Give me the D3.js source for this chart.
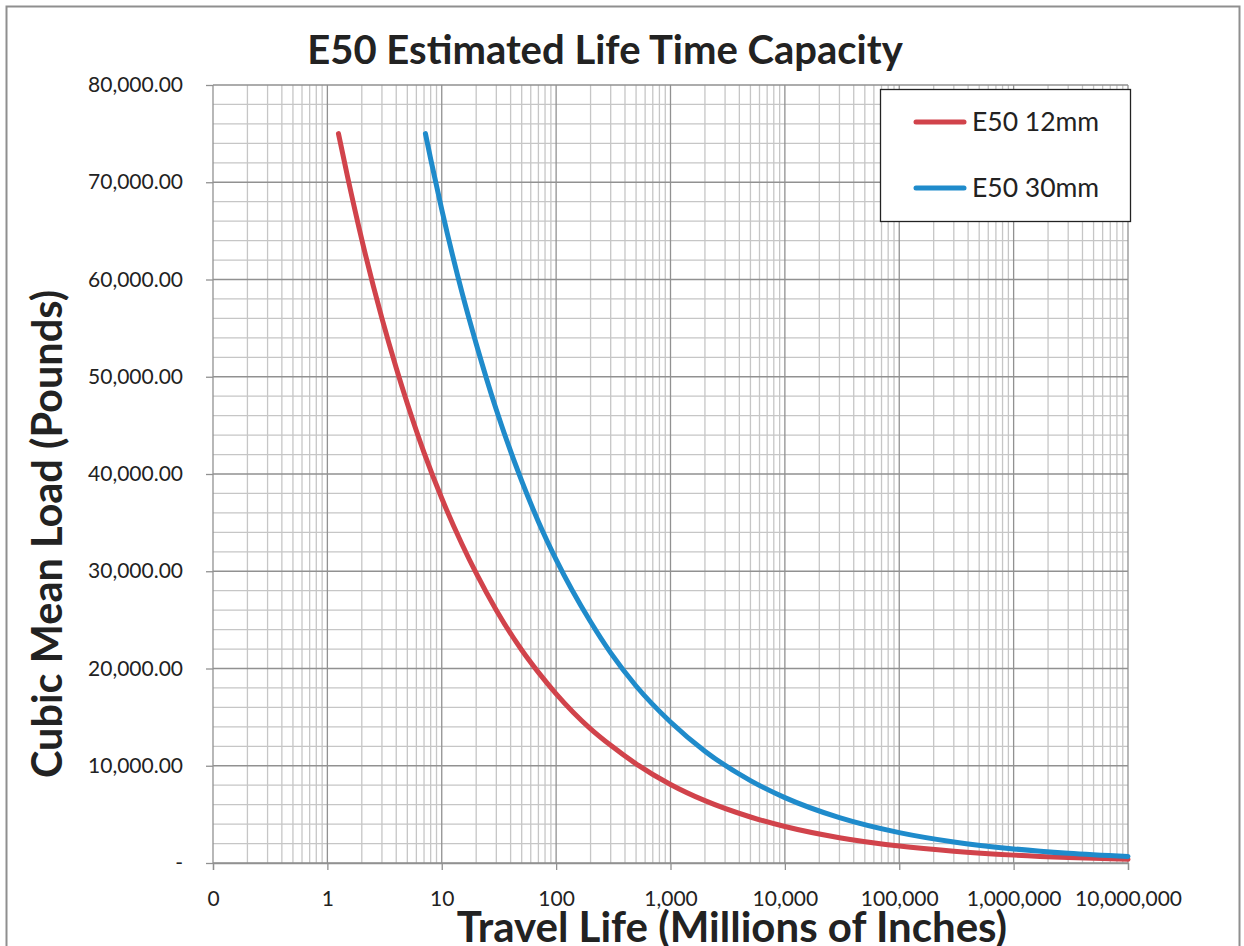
<!DOCTYPE html>
<html>
<head>
<meta charset="utf-8">
<script src="https://cdn.jsdelivr.net/npm/d3@7"></script>
<style>
  body { margin: 0; background: #fff; }
  text { font-family: Lato, "Open Sans", sans-serif; fill: #222; }
</style>
</head>
<body>
<svg id="chart" width="1244" height="946"></svg>
<script>
// Series (travel life in millions of inches, load in pounds)
const red12Life = [1.25, 1.5, 2, 3, 4, 5, 7, 10, 15, 20, 30, 50, 70, 100, 200, 300, 500, 1000, 2000, 5000, 10000, 30000, 100000, 300000, 1000000, 3000000, 10000000];
const red12Load = [75000, 70600, 64100, 56000, 50900, 47250, 42200, 37500, 32800, 29800, 26000, 21900, 19600, 17400, 13800, 12100, 10200, 8080, 6410, 4730, 3750, 2600, 1740, 1210, 810, 560, 375];
const blue30Life = [7.2, 8, 10, 15, 20, 30, 50, 70, 100, 200, 300, 500, 1000, 2000, 5000, 10000, 30000, 100000, 300000, 1000000, 3000000, 10000000];
const blue30Load = [75000, 72400, 67200, 58700, 53400, 46600, 39300, 35100, 31200, 24800, 21600, 18200, 14500, 11500, 8470, 6720, 4660, 3120, 2160, 1450, 1000, 672];

const seriesNames = ["E50 12mm", "E50 30mm"];
const seriesColors = ["#d1434b", "#1f8bcb"];
const xTickValues = [0.1, 1, 10, 100, 1000, 10000, 100000, 1000000, 10000000];
const xTickLabels = ["0", "1", "10", "100", "1,000", "10,000", "100,000", "1,000,000", "10,000,000"];
const yTickValues = [0, 10000, 20000, 30000, 40000, 50000, 60000, 70000, 80000];

const margin = {top: 85, right: 116, bottom: 83, left: 213};
const W = 1244, H = 946;
const width = W - margin.left - margin.right;
const height = H - margin.top - margin.bottom;

const svg = d3.select("#chart");

// outer frame
svg.append("rect")
    .attr("x", 6.5).attr("y", 6.5)
    .attr("width", 1233).attr("height", 960)
    .attr("fill", "none")
    .attr("stroke", "#8f8f8f")
    .attr("stroke-width", 2);

const g = svg.append("g")
    .attr("transform", `translate(${margin.left},${margin.top})`);

const x = d3.scaleLog().domain([0.1, 10000000]).range([0, width]);
const y = d3.scaleLinear().domain([0, 80000]).range([height, 0]);

// minor grid
const minorX = [];
for (let e = -1; e < 7; e++) {
    for (let k = 2; k <= 9; k++) minorX.push(k * Math.pow(10, e));
}
g.append("g").selectAll("line")
    .data(minorX)
    .join("line")
    .attr("x1", d => x(d)).attr("x2", d => x(d))
    .attr("y1", 0).attr("y2", height)
    .attr("stroke", "#c6c6c6").attr("stroke-width", 1.3);

g.append("g").selectAll("line")
    .data(d3.range(2000, 80001, 2000).filter(v => v % 10000 !== 0))
    .join("line")
    .attr("x1", 0).attr("x2", width)
    .attr("y1", d => y(d)).attr("y2", d => y(d))
    .attr("stroke", "#c6c6c6").attr("stroke-width", 1.3);

// major grid
g.append("g").selectAll("line")
    .data(xTickValues)
    .join("line")
    .attr("x1", d => x(d)).attr("x2", d => x(d))
    .attr("y1", 0).attr("y2", height)
    .attr("stroke", "#919191").attr("stroke-width", 1.3);

g.append("g").selectAll("line")
    .data(yTickValues)
    .join("line")
    .attr("x1", 0).attr("x2", width)
    .attr("y1", d => y(d)).attr("y2", d => y(d))
    .attr("stroke", "#919191").attr("stroke-width", 1.3);

// axes
const xAxis = g.append("g")
    .attr("transform", `translate(0,${height})`)
    .call(d3.axisBottom(x).tickValues(xTickValues)
        .tickFormat((d, i) => xTickLabels[i]).tickSize(7).tickPadding(21));
xAxis.selectAll("path, line").attr("stroke", "#919191").attr("stroke-width", 1.3);
xAxis.selectAll("text").style("font-size", "21px").attr("fill", "#222");

const yAxis = g.append("g")
    .call(d3.axisLeft(y).tickValues(yTickValues)
        .tickFormat(d => d === 0 ? "-" : d3.format(",.2f")(d)).tickSize(7).tickPadding(23));
yAxis.select(".domain").remove();
yAxis.selectAll("line").attr("stroke", "#919191").attr("stroke-width", 1.3);
yAxis.selectAll("text").style("font-size", "21px").attr("fill", "#222");

// curves
const line = d3.line()
    .x(d => x(d[0]))
    .y(d => y(d[1]))
    .curve(d3.curveMonotoneX);

const series = [
    d3.zip(red12Life, red12Load),
    d3.zip(blue30Life, blue30Load)
];

g.selectAll(".series")
    .data(series)
    .join("path")
    .attr("class", "series")
    .attr("d", line)
    .attr("fill", "none")
    .attr("stroke", (d, i) => seriesColors[i])
    .attr("stroke-width", 5)
    .attr("stroke-linecap", "round");

// legend
const legend = svg.append("g").attr("transform", "translate(880,89)");
legend.append("rect")
    .attr("x", 0.5).attr("y", 0.5)
    .attr("width", 250).attr("height", 132)
    .attr("fill", "#fff").attr("stroke", "#222").attr("stroke-width", 1.3);

seriesNames.forEach((name, i) => {
    const ly = 33 + i * 66;
    legend.append("line")
        .attr("x1", 36).attr("x2", 84)
        .attr("y1", ly).attr("y2", ly)
        .attr("stroke", seriesColors[i]).attr("stroke-width", 5)
        .attr("stroke-linecap", "round");
    legend.append("text")
        .attr("x", 92).attr("y", ly + 9)
        .style("font-size", "26.5px")
        .text(name);
});

// titles
svg.append("text")
    .attr("x", 605).attr("y", 64)
    .attr("text-anchor", "middle")
    .style("font-size", "40px").style("font-weight", "bold")
    .text("E50 Estimated Life Time Capacity");

svg.append("text")
    .attr("x", 732).attr("y", 942)
    .attr("text-anchor", "middle")
    .style("font-size", "42px").style("font-weight", "bold")
    .text("Travel Life (Millions of Inches)");

svg.append("text")
    .attr("transform", "translate(62,534) rotate(-90)")
    .attr("text-anchor", "middle")
    .style("font-size", "41.5px").style("font-weight", "bold")
    .text("Cubic Mean Load (Pounds)");
</script>
</body>
</html>
